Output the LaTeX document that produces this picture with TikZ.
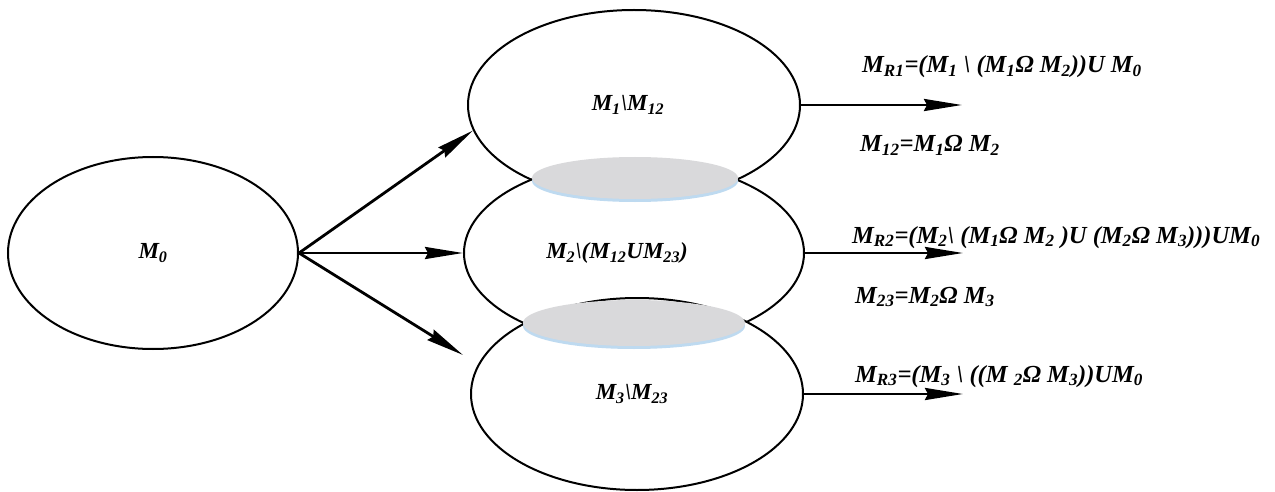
\documentclass[tikz,border=0pt]{standalone}
\usepackage{fontspec}
\setmainfont{Liberation Serif}
\usetikzlibrary{shapes.geometric,arrows.meta}
\definecolor{lensgray}{RGB}{217,217,219}
\definecolor{lensrim}{RGB}{190,218,240}
\newcommand\sbs[1]{\textsubscript{#1}}
% set a label shifted left by half of the given gap
\newcommand\leftby[2]{\makebox[0pt]{#2\hspace{#1}}}
\tikzset{
  setbox/.style={draw=black,line width=2pt,ellipse,inner sep=0pt,fill=white,
                 font=\fontsize{23}{27}\selectfont\bfseries\itshape},
  lens/.style={ellipse,inner sep=0pt,fill=lensgray,draw=none},
  rim/.style={ellipse,inner sep=0pt,fill=lensrim,draw=none},
  flow/.style={line width=2.8pt,-{Stealth[length=38pt,width=12pt,inset=3pt]}},
  formula/.style={anchor=base west,inner sep=0pt,font=\fontsize{24.5}{28}\selectfont\bfseries\itshape}
}
\begin{document}
\begin{tikzpicture}[x=1pt,y=-1pt]
\useasboundingbox (0,0) rectangle (1275,492);

% source set
\node[setbox,minimum width=290pt,minimum height=192pt] (m0) at (153,253) {M\sbs{0}};

% three overlapping sets, drawn top to bottom so each hides the arc above it
\node[setbox,minimum width=332pt,minimum height=190pt] (s1) at (634,105) {\leftby{12pt}{M\sbs{1}\textbackslash M\sbs{12}}};
\node[setbox,minimum width=340pt,minimum height=184pt] (s2) at (634,253) {\leftby{34pt}{M\sbs{2}\textbackslash (M\sbs{12}UM\sbs{23})}};
\node[setbox,minimum width=332pt,minimum height=192pt] (s3) at (637,394) {\leftby{10pt}{M\sbs{3}\textbackslash M\sbs{23}}};

% shaded intersections
\node[rim,minimum width=206pt,minimum height=42pt] (r12) at (635,181) {};
\node[lens,minimum width=206pt,minimum height=42pt] (l12) at (635,178) {};
\node[rim,minimum width=222pt,minimum height=46pt] (r23) at (634,326) {};
\node[lens,minimum width=222pt,minimum height=46pt] (l23) at (634,323) {};

% outputs
\coordinate (o1) at (962,105);
\coordinate (o2) at (963,253);
\coordinate (o3) at (963,394);
\coordinate (t3) at (463,355);

\draw[flow] (m0.east) -- (s1.189);
\draw[flow] (m0.east) -- (s2.west);
\draw[flow] (m0.east) -- (t3);
\draw[flow] (s1.east) -- (o1);
\draw[flow] (s2.east) -- (o2);
\draw[flow] (s3.east) -- (o3);

% result formulas
\node[formula] (f1) at (862,73) {M\sbs{R1}=(M\sbs{1} \textbackslash\ (M\sbs{1}Ω M\sbs{2}))U M\sbs{0}};
\node[formula] (f2) at (860,152) {M\sbs{12}=M\sbs{1}Ω M\sbs{2}};
\node[formula] (f3) at (852,243) {M\sbs{R2}=(M\sbs{2}\textbackslash\ (M\sbs{1}Ω M\sbs{2} )U (M\sbs{2}Ω M\sbs{3})))UM\sbs{0}};
\node[formula] (f4) at (855,303) {M\sbs{23}=M\sbs{2}Ω M\sbs{3}};
\node[formula] (f5) at (855,382) {M\sbs{R3}=(M\sbs{3} \textbackslash\ ((M \sbs{2}Ω M\sbs{3}))UM\sbs{0}};
\end{tikzpicture}
\end{document}
